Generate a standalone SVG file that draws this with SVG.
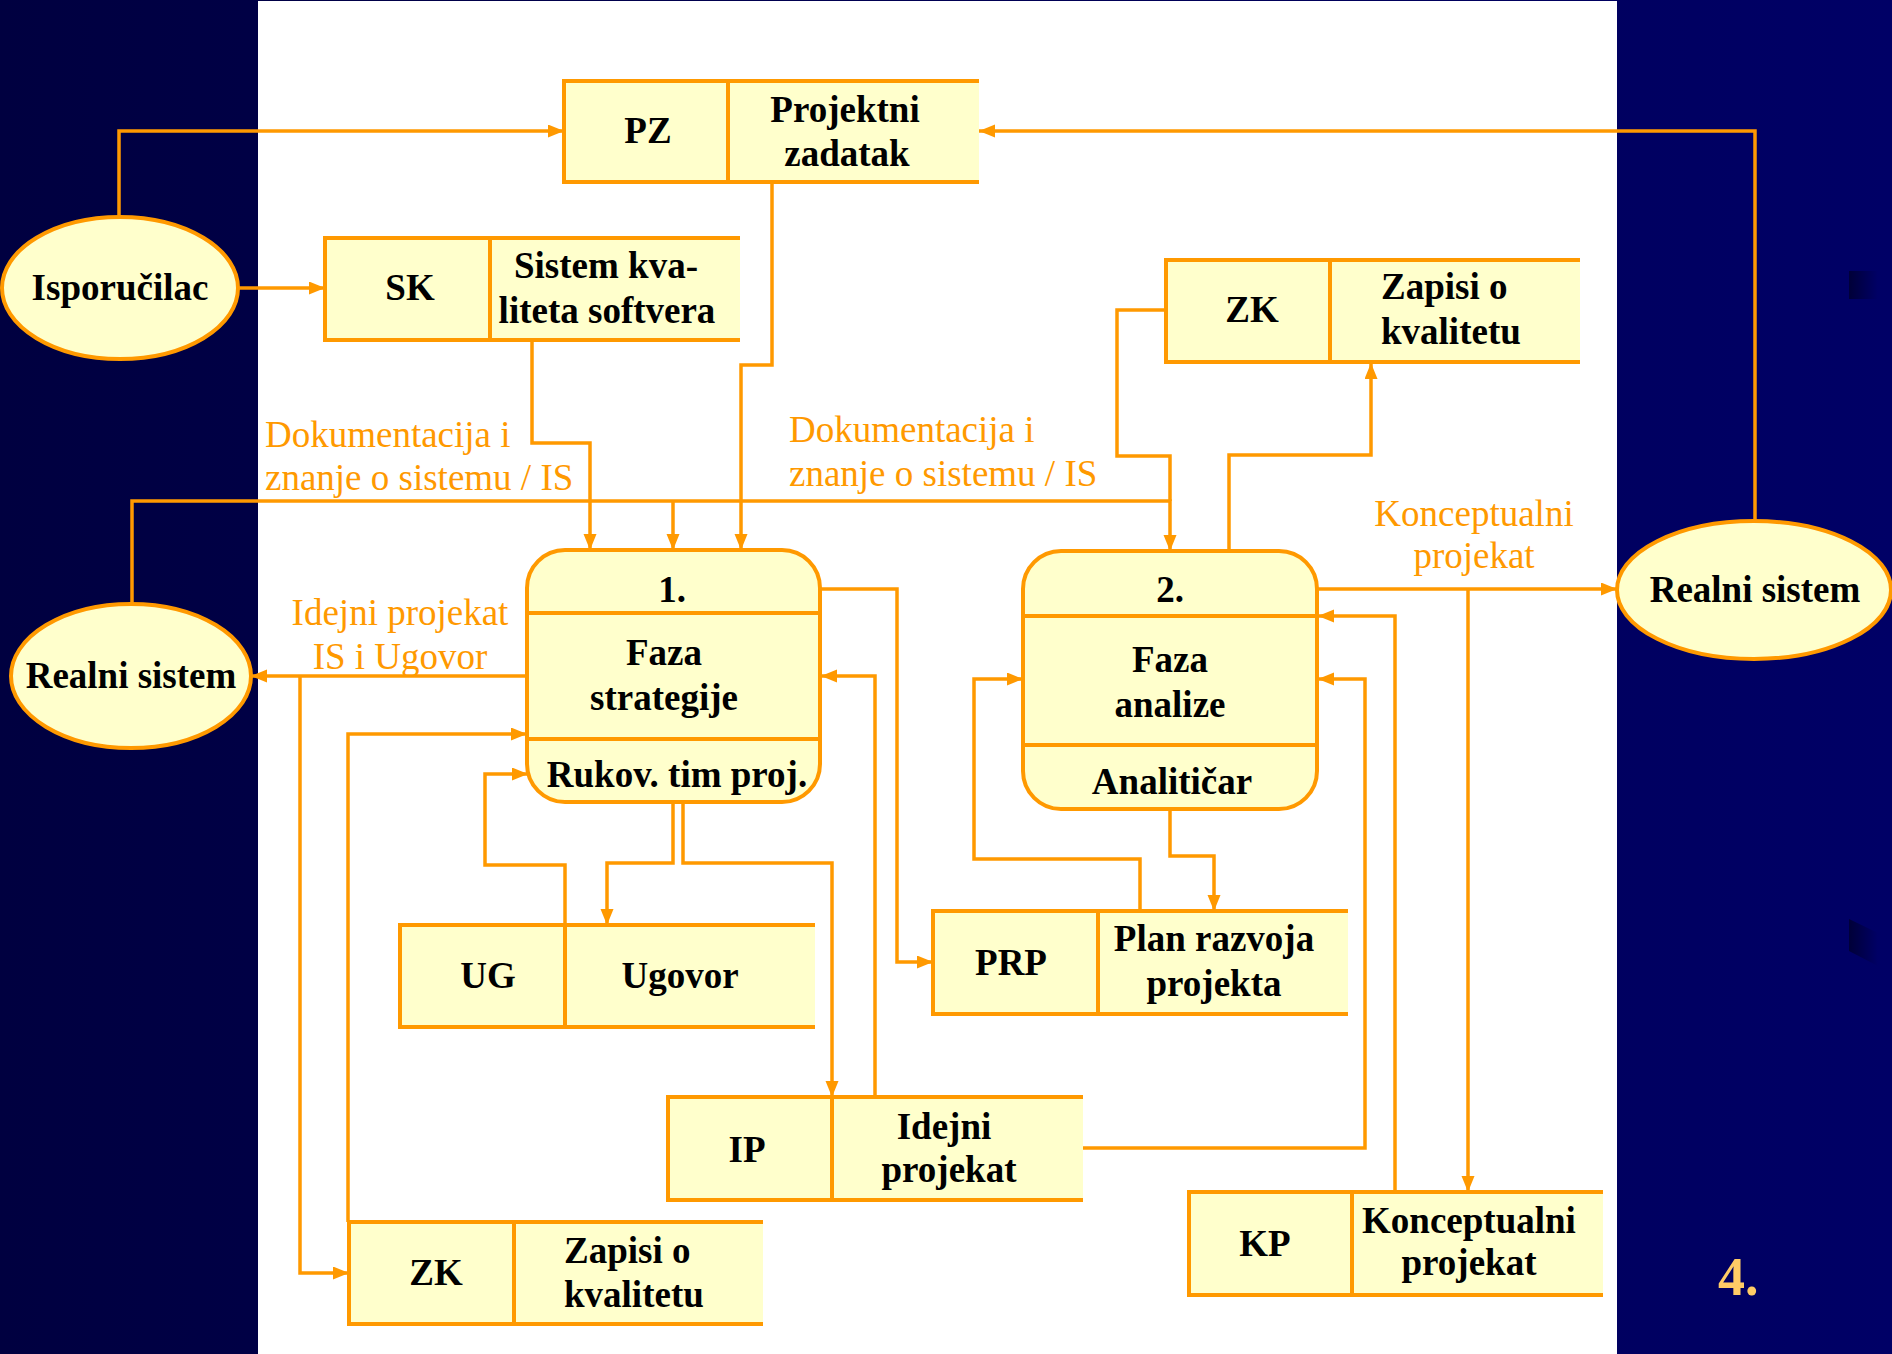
<svg xmlns="http://www.w3.org/2000/svg" width="1892" height="1354" viewBox="0 0 1892 1354">
<defs>
<linearGradient id="bg" x1="0" y1="0" x2="1" y2="0">
<stop offset="0" stop-color="#000040"/>
<stop offset="1" stop-color="#000066"/>
</linearGradient>
<linearGradient id="shade" x1="0" y1="0" x2="1" y2="0">
<stop offset="0" stop-color="#000038"/>
<stop offset="1" stop-color="#000066"/>
</linearGradient>
<marker id="ah" markerUnits="userSpaceOnUse" markerWidth="17" markerHeight="14" refX="16" refY="6.5" orient="auto">
<path d="M0,0 L16,6.5 L0,13 Z" fill="#FF9900"/>
</marker>
<style>
.fill{fill:#FFFFCC;stroke:none}
.bord{fill:none;stroke:#FF9900;stroke-width:4}
.proc{fill:#FFFFCC;stroke:#FF9900;stroke-width:4}
.ell{fill:#FFFFCC;stroke:#FF9900;stroke-width:4}
.t{font-family:"Liberation Serif","Times New Roman",serif;font-weight:bold;font-size:37px;fill:#000;text-anchor:middle}
.tl{text-anchor:start}
.lab{font-family:"Liberation Serif","Times New Roman",serif;font-size:37px;fill:#FF9900}
.c{fill:none;stroke:#FF9900;stroke-width:3.5}
.ca{fill:none;stroke:#FF9900;stroke-width:3.5;marker-end:url(#ah)}
</style>
</defs>
<rect x="0" y="0" width="1892" height="1354" fill="url(#bg)"/>
<rect x="258" y="1" width="1359" height="1353" fill="#FFFFFF"/>
<rect x="1849" y="271" width="29" height="28" fill="url(#shade)"/>
<path d="M1849,919 L1878,933 L1878,966 L1849,951 Z" fill="url(#shade)"/>
<text x="1718" y="1295" font-family="Liberation Serif, serif" font-weight="bold" font-size="54" fill="#FFCC66">4.</text>

<g id="connectors">
<path class="ca" d="M119,217 V131 H564"/>
<path class="ca" d="M1755,520 V131 H979"/>
<path class="ca" d="M239,288 H325"/>
<path class="ca" d="M532,340 V443 H590 V550"/>
<path class="ca" d="M772,182 V365 H741 V550"/>
<path class="ca" d="M132,604 V501 H1170 V551"/>
<path class="ca" d="M673,501 V550"/>
<path class="c" d="M1166,310 H1117 V456 H1170 V501"/>
<path class="ca" d="M1229,551 V455 H1371 V363"/>
<path class="ca" d="M1317,589 H1617"/>
<path class="ca" d="M1468,589 V1192"/>
<path class="ca" d="M1395,1192 V616 H1318"/>
<path class="ca" d="M1083,1148 H1365 V679 H1318"/>
<path class="ca" d="M1140,911 V859 H974 V679 H1023"/>
<path class="ca" d="M1170,809 V856 H1214 V911"/>
<path class="ca" d="M820,589 H897 V962 H933"/>
<path class="ca" d="M875,1097 V676 H821"/>
<path class="ca" d="M683,802 V863 H832 V1097"/>
<path class="ca" d="M673,802 V863 H607 V925"/>
<path class="ca" d="M565,925 V865 H485 V774 H528"/>
<path class="ca" d="M527,676 H251"/>
<path class="ca" d="M300,676 V1273 H349"/>
<path class="ca" d="M348,1222 V734 H527"/>
</g>

<g id="labels">
<text class="lab" x="265" y="447">Dokumentacija i</text>
<text class="lab" x="265" y="490">znanje o sistemu / IS</text>
<text class="lab" x="789" y="442">Dokumentacija i</text>
<text class="lab" x="789" y="486">znanje o sistemu / IS</text>
<text class="lab" x="1474" y="526" text-anchor="middle">Konceptualni</text>
<text class="lab" x="1474" y="568" text-anchor="middle">projekat</text>
<text class="lab" x="400" y="625" text-anchor="middle">Idejni projekat</text>
<text class="lab" x="400" y="669" text-anchor="middle">IS i Ugovor</text>
</g>

<g id="isporucilac">
<ellipse class="ell" cx="120" cy="288" rx="118" ry="71"/>
<text class="t" x="120" y="300">Isporučilac</text>
</g>
<g id="realni-sistem-left">
<ellipse class="ell" cx="131" cy="676" rx="120" ry="72"/>
<text class="t" x="131" y="688">Realni sistem</text>
</g>
<g id="realni-sistem-right">
<ellipse class="ell" cx="1754" cy="590" rx="137" ry="69"/>
<text class="t" x="1755" y="602">Realni sistem</text>
</g>

<g id="pz">
<rect class="fill" x="564" y="81" width="415" height="101"/>
<path class="bord" d="M979,81 H564 V182 H979 M728,81 V182"/>
<text class="t" x="648" y="143">PZ</text>
<text class="t" x="845" y="122">Projektni</text>
<text class="t" x="847" y="166">zadatak</text>
</g>
<g id="sk">
<rect class="fill" x="325" y="238" width="415" height="102"/>
<path class="bord" d="M740,238 H325 V340 H740 M490,238 V340"/>
<text class="t" x="410" y="300">SK</text>
<text class="t" x="606" y="278">Sistem kva-</text>
<text class="t" x="607" y="323">liteta softvera</text>
</g>
<g id="zk-top">
<rect class="fill" x="1166" y="260" width="414" height="102"/>
<path class="bord" d="M1580,260 H1166 V362 H1580 M1330,260 V362"/>
<text class="t" x="1252" y="322">ZK</text>
<text class="t tl" x="1381" y="299">Zapisi o</text>
<text class="t tl" x="1381" y="344">kvalitetu</text>
</g>
<g id="proc1">
<rect class="proc" x="527" y="550" width="293" height="252" rx="38" ry="38"/>
<path class="bord" d="M527,613 H820 M527,739 H820"/>
<text class="t" x="672" y="602">1.</text>
<text class="t" x="664" y="665">Faza</text>
<text class="t" x="664" y="710">strategije</text>
<text class="t" x="677" y="787">Rukov. tim proj.</text>
</g>
<g id="proc2">
<rect class="proc" x="1023" y="551" width="294" height="258" rx="38" ry="38"/>
<path class="bord" d="M1023,616 H1317 M1023,745 H1317"/>
<text class="t" x="1170" y="602">2.</text>
<text class="t" x="1170" y="672">Faza</text>
<text class="t" x="1170" y="717">analize</text>
<text class="t" x="1172" y="794">Analitičar</text>
</g>
<g id="ug">
<rect class="fill" x="400" y="925" width="415" height="102"/>
<path class="bord" d="M815,925 H400 V1027 H815 M565,925 V1027"/>
<text class="t" x="488" y="988">UG</text>
<text class="t" x="680" y="988">Ugovor</text>
</g>
<g id="prp">
<rect class="fill" x="933" y="911" width="415" height="103"/>
<path class="bord" d="M1348,911 H933 V1014 H1348 M1098,911 V1014"/>
<text class="t" x="1011" y="975">PRP</text>
<text class="t" x="1214" y="951">Plan razvoja</text>
<text class="t" x="1214" y="996">projekta</text>
</g>
<g id="ip">
<rect class="fill" x="668" y="1097" width="415" height="103"/>
<path class="bord" d="M1083,1097 H668 V1200 H1083 M832,1097 V1200"/>
<text class="t" x="747" y="1162">IP</text>
<text class="t" x="944" y="1139">Idejni</text>
<text class="t" x="949" y="1182">projekat</text>
</g>
<g id="zk-bottom">
<rect class="fill" x="349" y="1222" width="414" height="102"/>
<path class="bord" d="M763,1222 H349 V1324 H763 M514,1222 V1324"/>
<text class="t" x="436" y="1285">ZK</text>
<text class="t tl" x="564" y="1263">Zapisi o</text>
<text class="t tl" x="564" y="1307">kvalitetu</text>
</g>
<g id="kp">
<rect class="fill" x="1189" y="1192" width="414" height="103"/>
<path class="bord" d="M1603,1192 H1189 V1295 H1603 M1352,1192 V1295"/>
<text class="t" x="1265" y="1256">KP</text>
<text class="t" x="1469" y="1233">Konceptualni</text>
<text class="t" x="1469" y="1275">projekat</text>
</g>
</svg>
